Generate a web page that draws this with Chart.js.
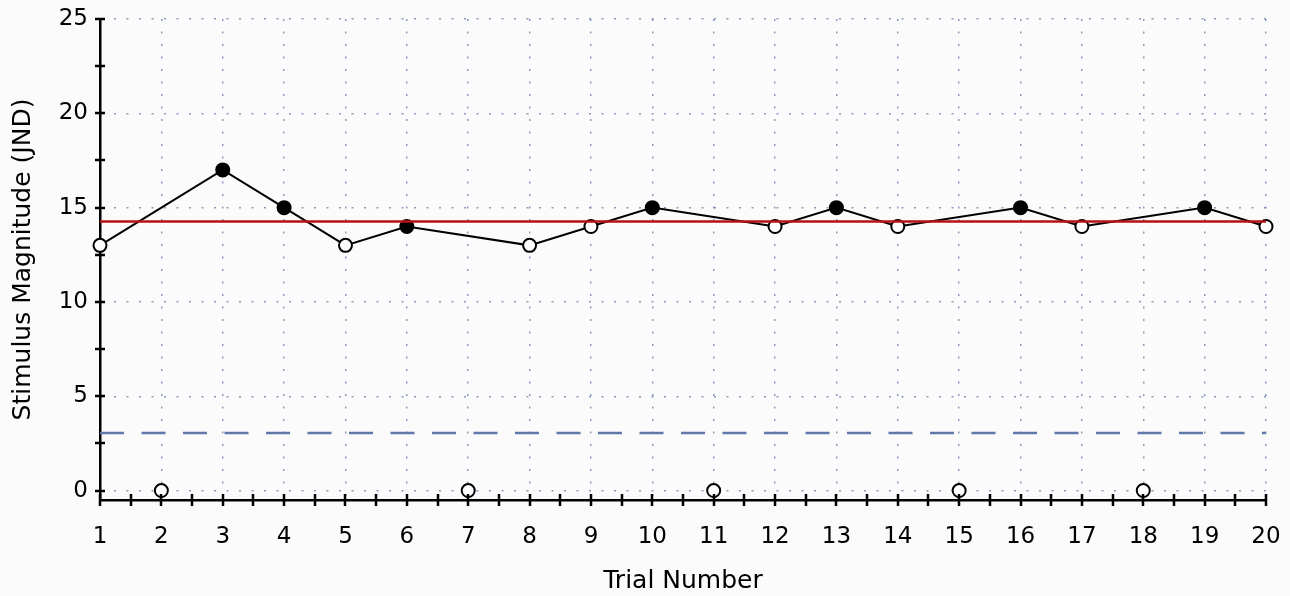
<!DOCTYPE html>
<html>
<head>
<meta charset="utf-8">
<script src="https://cdn.jsdelivr.net/npm/chart.js@4.4.1/dist/chart.umd.min.js"></script>
<style>
html, body { margin: 0; padding: 0; background: #fbfbfb; }
</style>
</head>
<body>
<canvas id="grafico" width="1290" height="596"></canvas>
<script>
// Datos
const trials = [1, 2, 3, 4, 5, 6, 7, 8, 9, 10, 11, 12, 13, 14, 15, 16, 17, 18, 19, 20];
const trackValues = [13, null, 17, 15, 13, 14, null, 13, 14, 15, null, 14, 15, 14, null, 15, 14, null, 15, 14];
const filledTrials = [3, 4, 6, 10, 13, 16, 19];
const catchTrials = [2, 7, 11, 15, 18];
const catchValues = [0, 0, 0, 0, 0];
const thresholdLevel = 14.27;
const dashedLevel = 3.05;
const yTicks = [0, 5, 10, 15, 20, 25];

const fuente = 'DejaVu Sans, Verdana, sans-serif';
const colorGrid = 'rgba(110,130,175,0.8)';

// marcas del eje que cruzan la línea (mayores y menores)
const marcasEje = {
    id: 'marcasEje',
    afterDraw(chart) {
        const ctx = chart.ctx;
        const x = chart.scales.x;
        const y = chart.scales.y;
        const baseY = chart.chartArea.bottom;
        const baseX = chart.chartArea.left;
        ctx.save();
        ctx.strokeStyle = '#000';
        ctx.lineWidth = 2.5;
        ctx.beginPath();
        for (let v = trials[0]; v <= trials[trials.length - 1]; v += 0.5) {
            const px = Math.round(x.getPixelForValue(v));
            ctx.moveTo(px, baseY - 6);
            ctx.lineTo(px, baseY + 6);
        }
        for (let v = 0; v <= yTicks[yTicks.length - 1]; v += 2.5) {
            const py = Math.round(y.getPixelForValue(v));
            ctx.moveTo(baseX - 5, py);
            ctx.lineTo(baseX + 5, py);
        }
        ctx.stroke();
        ctx.restore();
    }
};

const ctx = document.getElementById('grafico').getContext('2d');

new Chart(ctx, {
    type: 'line',
    data: {
        datasets: [
            {
                label: 'Umbral',
                data: [{ x: trials[0], y: thresholdLevel }, { x: trials[trials.length - 1], y: thresholdLevel }],
                borderColor: '#b81010',
                borderWidth: 2.5,
                pointRadius: 0,
                order: 0
            },
            {
                label: 'Nivel',
                data: [{ x: trials[0], y: dashedLevel }, { x: trials[trials.length - 1], y: dashedLevel }],
                borderColor: '#6178aa',
                borderWidth: 2.5,
                borderDash: [24, 17.5],
                pointRadius: 0,
                order: 2
            },
            {
                label: 'Ensayos',
                data: trials.map((t, i) => ({ x: t, y: trackValues[i] })),
                borderColor: '#000',
                borderWidth: 2,
                spanGaps: true,
                pointRadius: 6.5,
                pointBorderWidth: 2,
                pointBorderColor: '#000',
                pointBackgroundColor: trials.map(t => filledTrials.includes(t) ? '#000' : '#fff'),
                clip: false,
                order: 1
            },
            {
                label: 'Ensayos de captura',
                data: catchTrials.map((t, i) => ({ x: t, y: catchValues[i] })),
                showLine: false,
                pointRadius: 6.5,
                pointBorderWidth: 2,
                pointBorderColor: '#000',
                pointBackgroundColor: '#fff',
                clip: false,
                order: 1
            }
        ]
    },
    options: {
        responsive: false,
        animation: false,
        layout: { padding: { top: 19, right: 24, left: 0, bottom: 0 } },
        plugins: {
            legend: { display: false },
            tooltip: { enabled: false }
        },
        scales: {
            x: {
                type: 'linear',
                min: trials[0],
                max: trials[trials.length - 1],
                afterBuildTicks: s => { s.ticks = trials.map(v => ({ value: v })); },
                afterFit: s => { s.height = 96; s.paddingLeft = 0; s.paddingRight = 0; },
                grid: { color: colorGrid, lineWidth: 1.5, drawTicks: false },
                border: { color: '#000', width: 2.5, dash: [2, 10.5] },
                ticks: { color: '#000', padding: 23, font: { family: fuente, size: 23 } },
                title: {
                    display: true,
                    text: 'Trial Number',
                    color: '#000',
                    font: { family: fuente, size: 25 },
                    padding: { top: 0, bottom: 0 }
                }
            },
            y: {
                min: -0.5,
                max: 25,
                afterBuildTicks: s => { s.ticks = yTicks.map(v => ({ value: v })); },
                afterFit: s => { s.width = 100; s.paddingTop = 0; s.paddingBottom = 0; },
                grid: { color: colorGrid, lineWidth: 1.5, drawTicks: false },
                border: { color: '#000', width: 2.5, dash: [2, 10.5] },
                ticks: { color: '#000', padding: 12, font: { family: fuente, size: 23 } },
                title: {
                    display: true,
                    text: 'Stimulus Magnitude (JND)',
                    color: '#000',
                    font: { family: fuente, size: 25 },
                    padding: { top: 8, bottom: 0 }
                }
            }
        }
    },
    plugins: [marcasEje]
});
</script>
</body>
</html>
